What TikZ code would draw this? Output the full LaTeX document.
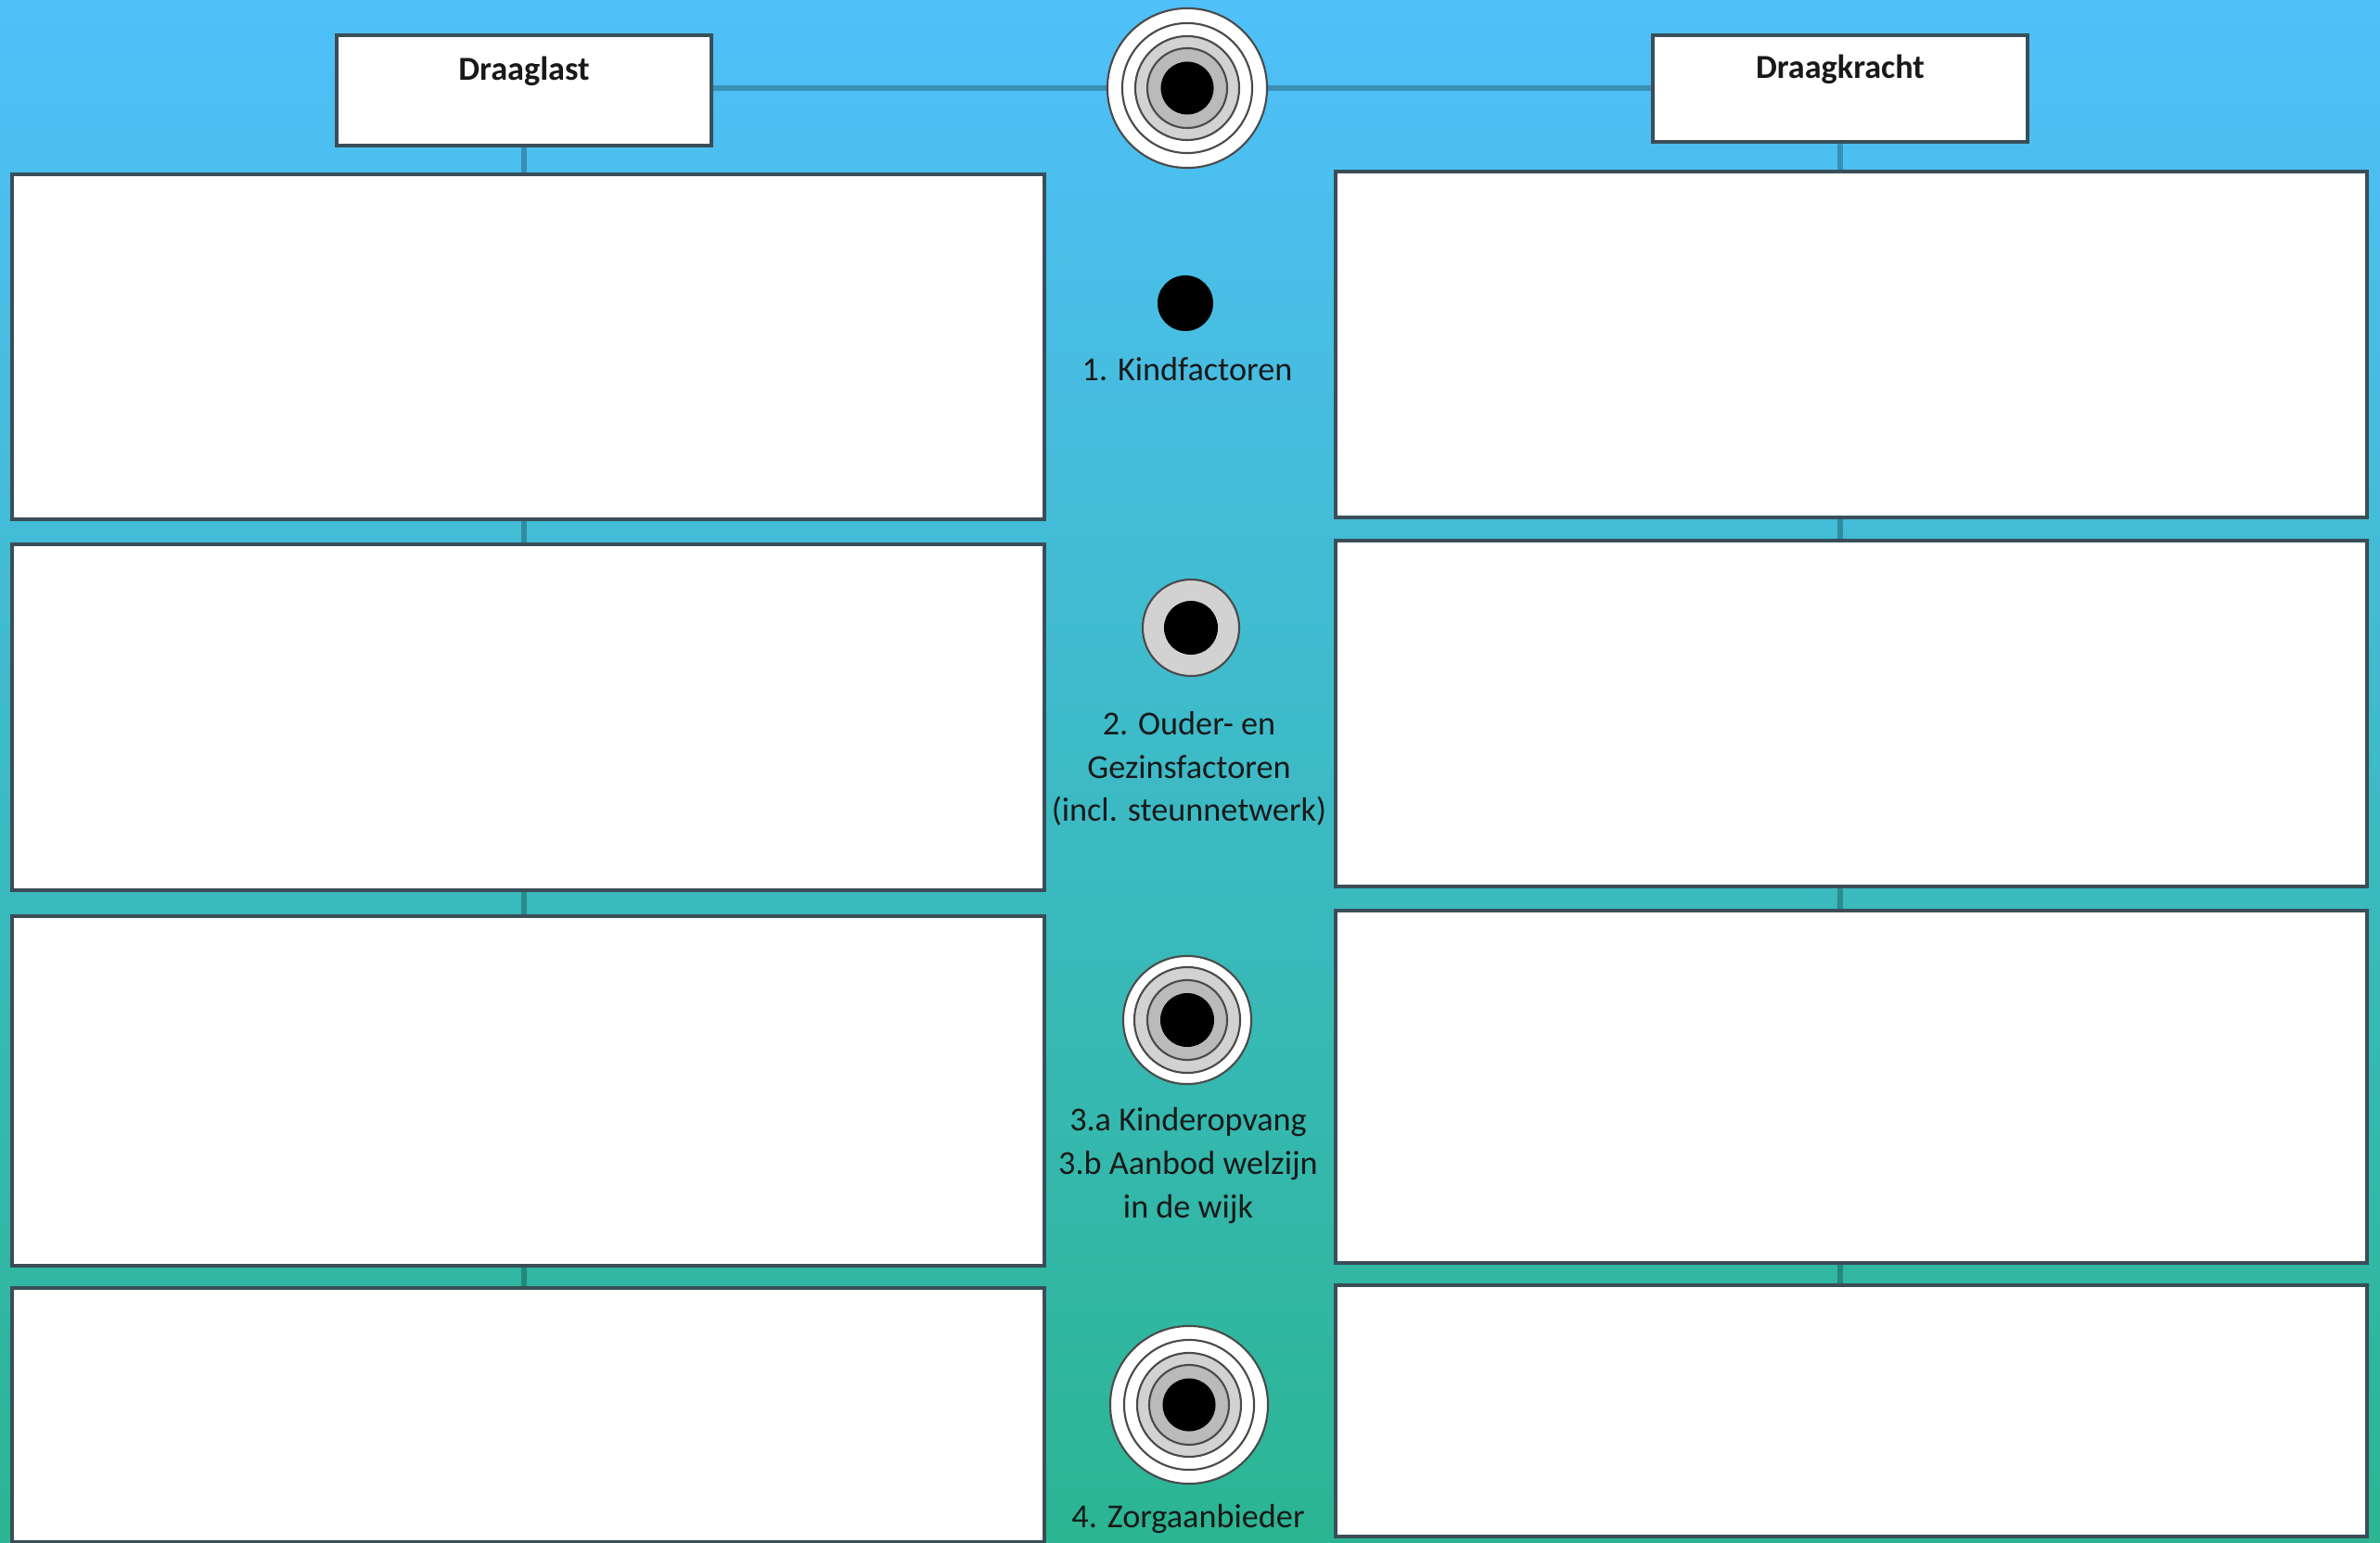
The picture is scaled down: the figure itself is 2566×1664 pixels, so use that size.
\documentclass[tikz,border=0pt]{standalone}
\usepackage{fontspec}
\setmainfont{Carlito}
\usetikzlibrary{backgrounds}
\definecolor{bgtop}{HTML}{4FC0FA}
\definecolor{bgbot}{HTML}{2BB592}
\definecolor{edge}{HTML}{3A4E58}
\definecolor{ringgrayA}{HTML}{D2D2D2}
\definecolor{ringgrayB}{HTML}{BABABA}
\definecolor{ringline}{HTML}{4A4A4A}
\begin{document}
\begin{tikzpicture}[x=0.01cm,y=-0.01cm,
  panel/.style={draw=edge, fill=white, line width=1.1pt, rectangle, inner sep=0pt},
  hdr/.style={panel, minimum width=4.04cm, align=center, font=\fontsize{10.3}{13.3}\selectfont\bfseries, text=black!90},
  wire/.style={draw=black, draw opacity=0.25, line width=1.6pt},
  ring/.style={draw=ringline, line width=0.6pt},
  disc/.style={circle, inner sep=0pt, draw=ringline, line width=0.6pt},
  lbl/.style={align=center, font=\fontsize{10.3}{13.3}\selectfont, text=black!90, inner sep=0pt}
]
\begin{scope}[on background layer]
\shade[top color=bgtop, bottom color=bgbot] (0,0) rectangle (2566,1664);
\end{scope}
\useasboundingbox (0,0) rectangle (2566,1664);

% header boxes
\node[hdr, minimum height=1.19cm] (dl) at (565,97.5) {Draaglast\\~};
\node[hdr, minimum height=1.15cm] (dk) at (1984,95.5) {Draagkracht\\~};

% left column
\node[panel, minimum width=11.13cm, minimum height=3.72cm] (L1) at (569.5,374) {};
\node[panel, minimum width=11.13cm, minimum height=3.73cm] (L2) at (569.5,773.5) {};
\node[panel, minimum width=11.13cm, minimum height=3.77cm] (L3) at (569.5,1176.5) {};
\node[panel, minimum width=11.13cm, minimum height=2.74cm] (L4) at (569.5,1526) {};
% right column
\node[panel, minimum width=11.12cm, minimum height=3.73cm] (R1) at (1996,371.5) {};
\node[panel, minimum width=11.12cm, minimum height=3.73cm] (R2) at (1996,769.5) {};
\node[panel, minimum width=11.12cm, minimum height=3.80cm] (R3) at (1996,1172) {};
\node[panel, minimum width=11.12cm, minimum height=2.71cm] (R4) at (1996,1521.5) {};

% central symbols
\node[disc, fill=white, minimum size=1.72cm] (c0) at (1280,95) {};
\draw[ring, fill=white] (c0.center) circle[radius=0.70cm];
\draw[ring, fill=ringgrayA] (c0.center) circle[radius=0.56cm];
\draw[ring, fill=ringgrayB] (c0.center) circle[radius=0.43cm];
\fill[black] (c0.center) circle[radius=0.285cm];

\node[circle, inner sep=0pt, fill=black, minimum size=0.60cm] (c1) at (1278,327) {};

\node[disc, fill=ringgrayA, minimum size=1.04cm] (c2) at (1284,677) {};
\fill[black] (c2.center) circle[radius=0.29cm];

\node[disc, fill=white, minimum size=1.38cm] (c3) at (1280,1100) {};
\draw[ring, fill=ringgrayA] (c3.center) circle[radius=0.57cm];
\draw[ring, fill=ringgrayB] (c3.center) circle[radius=0.43cm];
\fill[black] (c3.center) circle[radius=0.29cm];

\node[disc, fill=white, minimum size=1.70cm] (c4) at (1282,1515) {};
\draw[ring, fill=white] (c4.center) circle[radius=0.70cm];
\draw[ring, fill=ringgrayA] (c4.center) circle[radius=0.56cm];
\draw[ring, fill=ringgrayB] (c4.center) circle[radius=0.43cm];
\fill[black] (c4.center) circle[radius=0.285cm];

% labels
\node[lbl] (t1) at (1280,398) {1. Kindfactoren};
\node[lbl] (t2) at (1282,829) {2. Ouder- en\\Gezinsfactoren\\(incl. steunnetwerk)};
\node[lbl] (t3) at (1281,1257) {3.a Kinderopvang\\3.b Aanbod welzijn\\in de wijk};
\node[lbl] (t4) at (1281,1638) {4. Zorgaanbieder};

% connectors
\begin{scope}[on background layer]
\draw[wire] (c0.west -| dl.east) -- (c0.west);
\draw[wire] (c0.east) -- (c0.east -| dk.west);
\draw[wire] (dl.south) -- (dl.south |- L1.north);
\draw[wire] (L1.south -| dl.south) -- (L2.north -| dl.south);
\draw[wire] (L2.south -| dl.south) -- (L3.north -| dl.south);
\draw[wire] (L3.south -| dl.south) -- (L4.north -| dl.south);
\draw[wire] (dk.south) -- (dk.south |- R1.north);
\draw[wire] (R1.south -| dk.south) -- (R2.north -| dk.south);
\draw[wire] (R2.south -| dk.south) -- (R3.north -| dk.south);
\draw[wire] (R3.south -| dk.south) -- (R4.north -| dk.south);
\end{scope}
\end{tikzpicture}
\end{document}
